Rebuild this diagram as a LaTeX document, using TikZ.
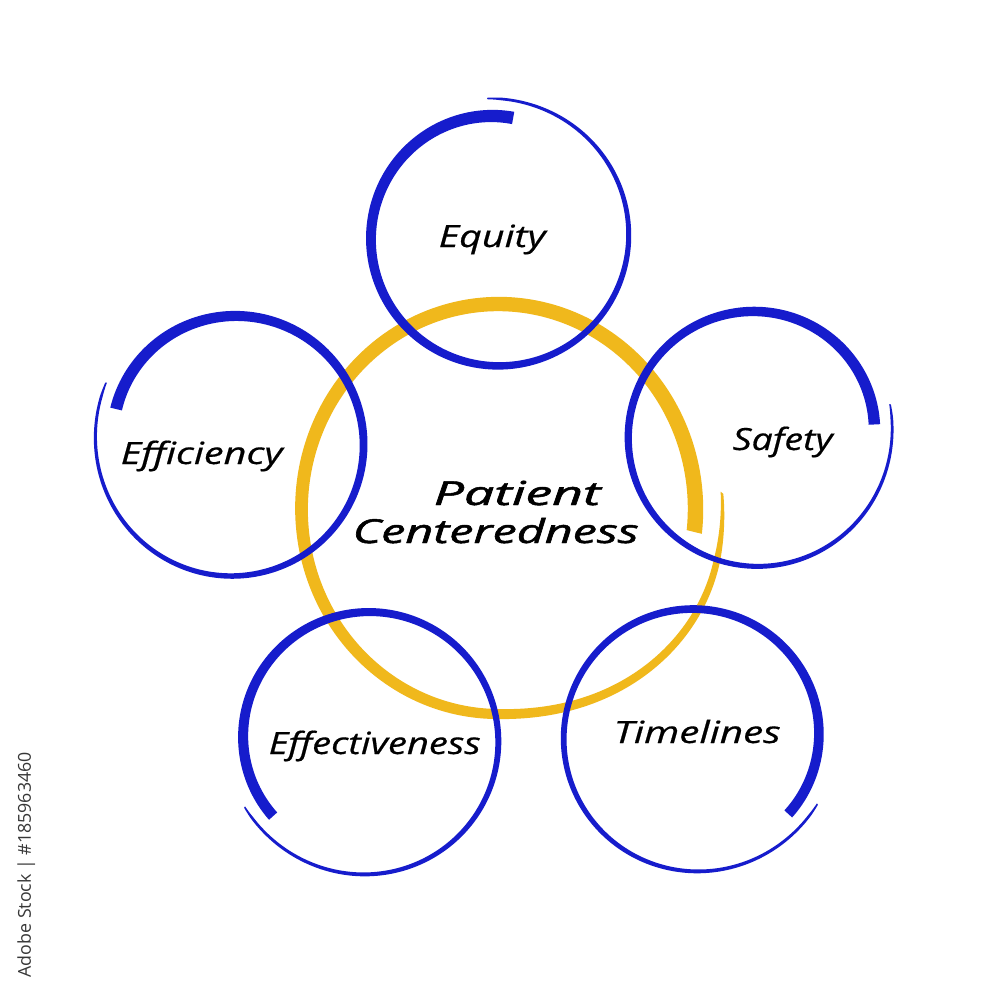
\documentclass[tikz,border=0pt]{standalone}
\usepackage{fontspec}
\newfontfamily\hand[FakeBold=0.5]{Open Sans}
\newfontfamily\handb[FakeBold=1.4]{Open Sans}
\newfontfamily\wmfont{Open Sans}
\definecolor{ringblue}{RGB}{22,28,204}
\definecolor{ringgold}{RGB}{240,184,28}
\definecolor{wmgray}{RGB}{55,55,55}
\newdimen\pxu \pxu=0.01cm
% radius profile of a blue brush ring: t in [0,1], R
\pgfmathdeclarefunction{bluer}{2}{\pgfmathparse{#2-9*(1-#1)*(1-#1)*(1-#1)*(1-#1)*(1-#1)+10*(#1)*(#1)*(#1)*(#1)*(#1)*(#1)}}
% width profile: t, w0, w1
\pgfmathdeclarefunction{bluew}{3}{\pgfmathparse{(#3+(#2-#3)*(1-#1))*min(1,0.6+25*(1-#1))}}
% gold ring drift and width
\pgfmathdeclarefunction{ydrift}{1}{\pgfmathparse{27*min(1,max(0,(#1-0.74)/0.21))*min(1,max(0,(#1-0.74)/0.21))*(3-2*min(1,max(0,(#1-0.74)/0.21)))}}
\pgfmathdeclarefunction{ygw}{1}{\pgfmathparse{(15.5-4*#1-6*#1*#1*#1)*min(1,0.45+12*(1-#1))}}
% #1 cx, #2 cy, #3 R, #4 start angle, #5 sweep, #6 w0, #7 w1, #8 name
\newcommand\brushring[8]{%
  \fill[ringblue] plot[domain=0:1, samples=300, variable=\t]
    ({#1+(bluer(\t,#3)+0.5*bluew(\t,#6,#7))*cos(#4+(#5)*\t)},
     {#2-(bluer(\t,#3)+0.5*bluew(\t,#6,#7))*sin(#4+(#5)*\t)})
    -- plot[domain=1:0, samples=300, variable=\t]
    ({#1+(bluer(\t,#3)-0.5*bluew(\t,#6,#7))*cos(#4+(#5)*\t)},
     {#2-(bluer(\t,#3)-0.5*bluew(\t,#6,#7))*sin(#4+(#5)*\t)}) -- cycle;
  \coordinate (#8) at (#1,#2);
}
% #1 name, #2 left x, #3 baseline y, #4 width px, #5 text
\newcommand\ringlabel[5]{%
  \node[anchor=base west, inner sep=0pt] (#1) at (#2,#3)
    {\resizebox{#4\pxu}{\height}{\hand\itshape\fontsize{8.7}{10}\selectfont #5}};
}
\newcommand\centerlabel[5]{%
  \node[anchor=base west, inner sep=0pt] (#1) at (#2,#3)
    {\resizebox{#4\pxu}{\height}{\handb\itshape\fontsize{9.4}{11}\selectfont #5}};
}
\begin{document}
\begin{tikzpicture}[x=0.01cm, y=-0.01cm]
\useasboundingbox (0,0) rectangle (1000,1000);
\fill[white] (0,0) rectangle (1000,1000);

% central gold ring
\fill[ringgold] plot[domain=0:1, samples=400, variable=\t]
  ({498.5+(197+ydrift(\t)+0.5*ygw(\t))*cos(-6.7+371*\t)},
   {509-(205+ydrift(\t)+0.5*ygw(\t))*sin(-6.7+371*\t)})
  -- plot[domain=1:0, samples=400, variable=\t]
  ({498.5+(197+ydrift(\t)-0.5*ygw(\t))*cos(-6.7+371*\t)},
   {509-(205+ydrift(\t)-0.5*ygw(\t))*sin(-6.7+371*\t)}) -- cycle;
\coordinate (core) at (498.5,509);

% blue rings
\brushring{498}{237}{129}{82.6}{372}{12.5}{2.5}{equityring}
\brushring{233}{444}{131}{163.5}{-369.5}{12}{2.5}{efficiencyring}
\brushring{756}{437}{128}{5.9}{368}{11.5}{2.5}{safetyring}
\brushring{368}{741}{130}{218.5}{-370.5}{11}{2.5}{effectivenessring}
\brushring{694}{738}{130}{-39}{371}{10.5}{2.5}{timelinesring}

% labels
\ringlabel{equity}{438}{247}{107}{Equity}
\ringlabel{efficiency}{120}{464}{162}{Efficiency}
\ringlabel{safety}{732}{450}{100}{Safety}
\ringlabel{effectiveness}{268}{754}{212}{Effectiveness}
\ringlabel{timelines}{613}{743}{167}{Timelines}
\centerlabel{patient}{433}{505}{167}{Patient}
\centerlabel{centeredness}{352}{543}{286}{Centeredness}

% stock id
\node[rotate=90, anchor=base west, inner sep=0pt, text=wmgray] (stockid) at (31,978)
  {\resizebox{225\pxu}{!}{\wmfont Adobe Stock | \#185963460}};
\end{tikzpicture}
\end{document}
